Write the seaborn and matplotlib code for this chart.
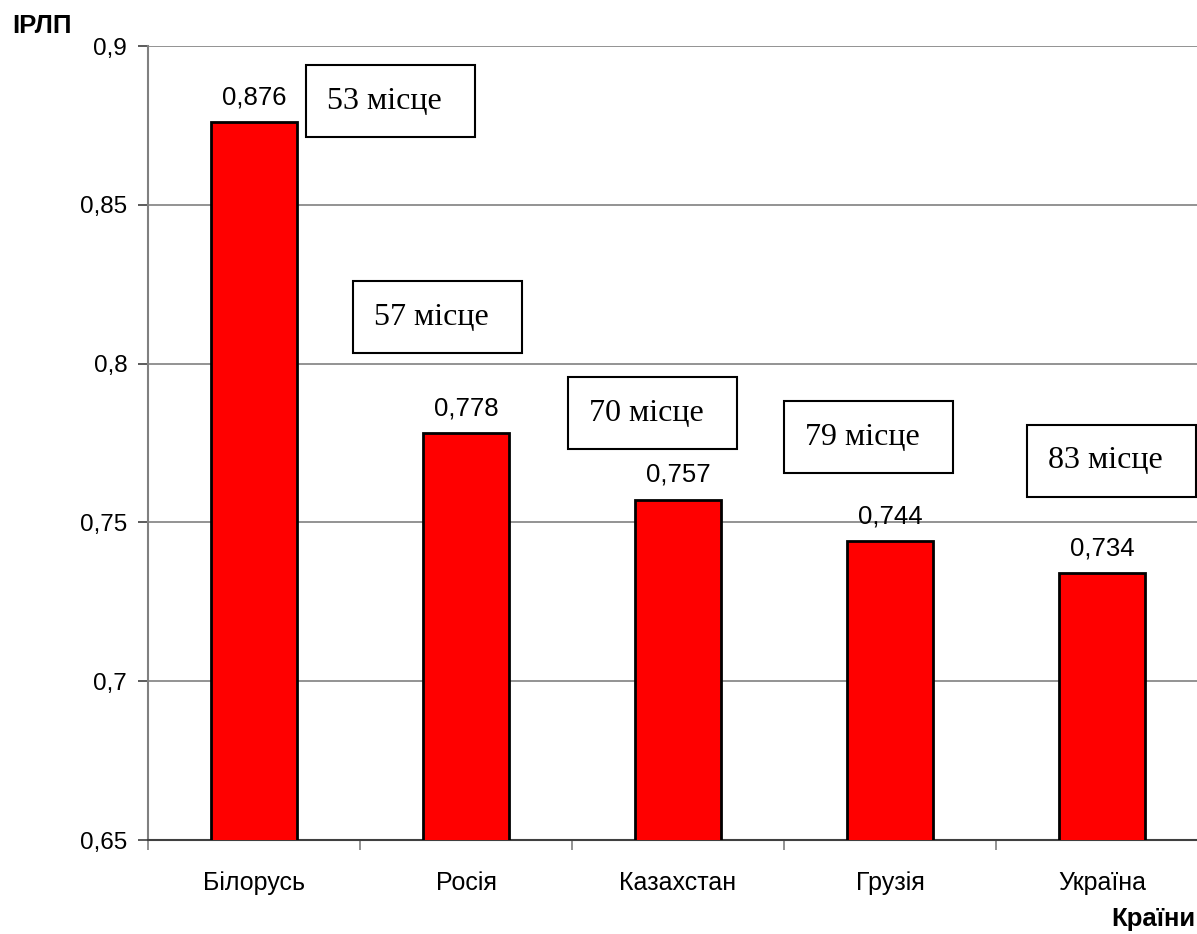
import matplotlib
matplotlib.use("Agg")
import matplotlib.pyplot as plt
from matplotlib.patches import Rectangle
from matplotlib.ticker import FuncFormatter, FixedLocator
import seaborn as sns
import pandas as pd

countries = ["Білорусь", "Росія", "Казахстан", "Грузія", "Україна"]
hdi = [0.876, 0.778, 0.757, 0.744, 0.734]
ranks = [53, 57, 70, 79, 83]

sns.set_style("white")
plt.rcParams["font.family"] = ["Liberation Sans", "DejaVu Sans"]
plt.rcParams["text.color"] = "black"
plt.rcParams["xtick.color"] = "black"
plt.rcParams["ytick.color"] = "black"

df = pd.DataFrame({"country": countries, "hdi": hdi})

fig = plt.figure(figsize=(11.97, 9.34), dpi=100)
W, H = 1197, 934
left_px, right_px, top_px, bottom_px = 148, 1208, 46, 840
ax = fig.add_axes([left_px / W, 1 - bottom_px / H,
                   (right_px - left_px) / W, (bottom_px - top_px) / H])

sns.barplot(data=df, x="country", y="hdi", color="#ff0000", saturation=1,
            edgecolor="black", linewidth=2, width=0.405, ax=ax, zorder=3)

ax.set_ylim(0.65, 0.9)
ax.set_xlim(-0.5, len(countries) - 0.5)
ax.set_yticks([0.65, 0.7, 0.75, 0.8, 0.85, 0.9])
ax.yaxis.set_major_formatter(FuncFormatter(lambda v, p: f"{v:g}".replace(".", ",")))
ax.grid(axis="y", color="#808080", linewidth=1.2, zorder=0)
ax.set_axisbelow(True)

for side in ["top", "right"]:
    ax.spines[side].set_visible(False)
ax.spines["left"].set_color("#808080")
ax.spines["left"].set_linewidth(1.5)
ax.spines["bottom"].set_color("#404040")
ax.spines["bottom"].set_linewidth(1.5)

ax.tick_params(axis="y", which="major", direction="out", length=7, width=1.2,
               color="#404040", labelsize=17.5, pad=8, left=True,
               labelcolor="black")
ax.tick_params(axis="x", which="major", length=0, labelsize=18, pad=22,
               labelcolor="black")
ax.xaxis.set_minor_locator(FixedLocator([i - 0.5 for i in range(len(countries) + 1)]))
ax.tick_params(axis="x", which="minor", direction="out", length=7, width=1.2,
               color="#808080", bottom=True)
ax.set_xlabel("")
ax.set_ylabel("")

# value labels above each bar
for i, v in enumerate(hdi):
    ax.annotate(f"{v:.3f}".replace(".", ","), (i, v), xytext=(0, 9.5),
                textcoords="offset points", ha="center", va="bottom",
                fontsize=18.5, color="black")

# rank boxes (axes fraction: left, bottom, width, height)
boxes = [(0.149, 0.885), (0.193, 0.613), (0.396, 0.492), (0.6, 0.462), (0.829, 0.432)]
bw, bh = 0.1595, 0.091
for (bx, by), r in zip(boxes, ranks):
    ax.add_patch(Rectangle((bx, by), bw, bh, transform=ax.transAxes,
                           facecolor="white", edgecolor="black", linewidth=1.5,
                           zorder=5, clip_on=False))
    ax.text(bx + 0.02, by + bh * 0.5, f"{r} місце", transform=ax.transAxes,
            ha="left", va="center", fontsize=23, color="black",
            family=["Liberation Serif", "DejaVu Serif"], zorder=6)

fig.text(12 / W, 1 - 26 / H, "ІРЛП", ha="left", va="center",
         fontsize=18.5, fontweight="bold", color="black")
fig.text(1195 / W, 1 - 919 / H, "Країни", ha="right", va="center",
         fontsize=18.5, fontweight="bold", color="black")

fig.savefig("out.png", dpi=100)
